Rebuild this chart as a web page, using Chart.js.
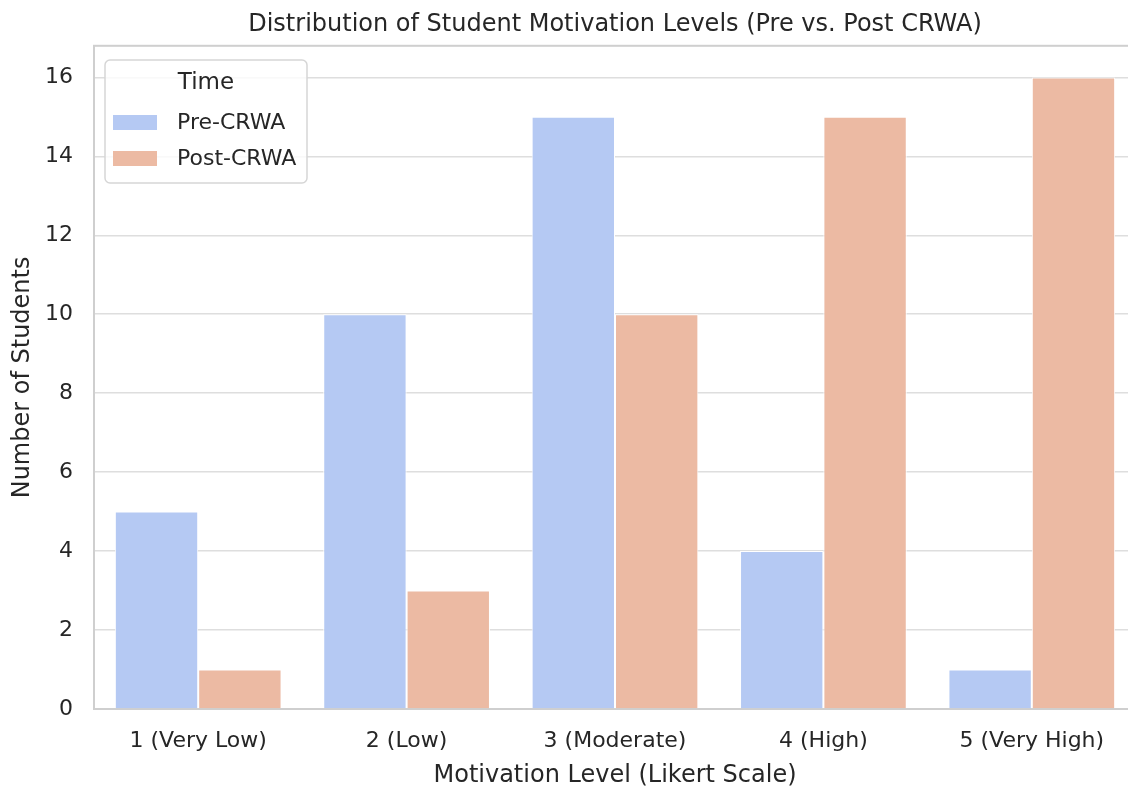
<!DOCTYPE html>
<html>
<head>
<meta charset="utf-8">
<script src="https://cdn.jsdelivr.net/npm/chart.js@4/dist/chart.umd.min.js"></script>
<style>
  html, body { margin: 0; padding: 0; background: #ffffff; overflow: hidden; }
  #wrap { width: 1146px; height: 791px; }
</style>
</head>
<body>
<div id="wrap"><canvas id="motivationChart" width="1146" height="791"></canvas></div>
<script>
const levels = ['1 (Very Low)', '2 (Low)', '3 (Moderate)', '4 (High)', '5 (Very High)'];
const preCounts = [5, 10, 15, 4, 1];
const postCounts = [1, 3, 10, 15, 16];
const seriesNames = ['Pre-CRWA', 'Post-CRWA'];
const yTicks = [0, 2, 4, 6, 8, 10, 12, 14, 16];

const FONT = "'DejaVu Sans', sans-serif";
const TEXT = '#262626';

// frame on all four sides, like the seaborn whitegrid spines
const framePlugin = {
    id: 'frame',
    beforeDatasetsDraw(chart) {
        const { ctx, chartArea: a } = chart;
        ctx.save();
        ctx.strokeStyle = '#cfcfcf';
        ctx.lineWidth = 2;
        ctx.strokeRect(a.left, a.top, a.right - a.left, a.bottom - a.top);
        ctx.restore();
    }
};

// legend drawn inside the plot, top left
const innerLegend = {
    id: 'innerLegend',
    afterDraw(chart) {
        const { ctx } = chart;
        const x = 105, y = 60, w = 202, h = 123;
        ctx.save();
        ctx.beginPath();
        ctx.roundRect(x, y, w, h, 5);
        ctx.fillStyle = 'rgba(255,255,255,0.8)';
        ctx.fill();
        ctx.strokeStyle = '#d6d6d6';
        ctx.lineWidth = 1.5;
        ctx.stroke();

        ctx.fillStyle = TEXT;
        ctx.font = '23px ' + FONT;
        ctx.textAlign = 'center';
        ctx.textBaseline = 'middle';
        ctx.fillText('Time', 206, 83);

        ctx.font = '22px ' + FONT;
        ctx.textAlign = 'left';
        chart.data.datasets.forEach((ds, i) => {
            const cy = 122 + i * 36;
            ctx.fillStyle = ds.backgroundColor;
            ctx.fillRect(113, cy - 7, 44, 15);
            ctx.fillStyle = TEXT;
            ctx.fillText(ds.label, 177, cy + 1);
        });
        ctx.restore();
    }
};

new Chart(document.getElementById('motivationChart'), {
    type: 'bar',
    data: {
        labels: levels,
        datasets: [
            {
                label: seriesNames[0],
                data: preCounts,
                backgroundColor: '#b5c9f3',
                borderColor: '#ffffff',
                borderWidth: 1
            },
            {
                label: seriesNames[1],
                data: postCounts,
                backgroundColor: '#ecbaa3',
                borderColor: '#ffffff',
                borderWidth: 1
            }
        ]
    },
    options: {
        responsive: false,
        animation: false,
        layout: { padding: { left: 0, right: 10, top: 0, bottom: 1 } },
        datasets: { bar: { categoryPercentage: 0.8, barPercentage: 1.0 } },
        plugins: {
            legend: { display: false },
            tooltip: { enabled: false },
            title: {
                display: true,
                fullSize: false,
                text: 'Distribution of Student Motivation Levels (Pre vs. Post CRWA)',
                color: TEXT,
                font: { family: FONT, size: 24, weight: 'normal' },
                padding: { top: 10, bottom: 7 }
            }
        },
        scales: {
            x: {
                grid: { display: false, drawTicks: false },
                border: { display: false },
                ticks: { color: TEXT, font: { family: FONT, size: 22 }, padding: 19, maxRotation: 0 },
                title: {
                    display: true,
                    text: 'Motivation Level (Likert Scale)',
                    color: TEXT,
                    font: { family: FONT, size: 24 },
                    padding: { top: 0, bottom: 0 }
                },
                afterFit(scale) { scale.height = 81; }
            },
            y: {
                min: 0,
                max: 16.8,
                afterBuildTicks(scale) { scale.ticks = yTicks.map(v => ({ value: v })); },
                grid: { color: '#dedede', lineWidth: 1.5, drawTicks: false },
                border: { display: false },
                ticks: { color: TEXT, font: { family: FONT, size: 22 }, padding: 21 },
                title: {
                    display: true,
                    text: 'Number of Students',
                    color: TEXT,
                    font: { family: FONT, size: 24 },
                    padding: { top: 8, bottom: 0 }
                },
                afterFit(scale) { scale.width = 94; }
            }
        }
    },
    plugins: [framePlugin, innerLegend]
});
</script>
</body>
</html>
